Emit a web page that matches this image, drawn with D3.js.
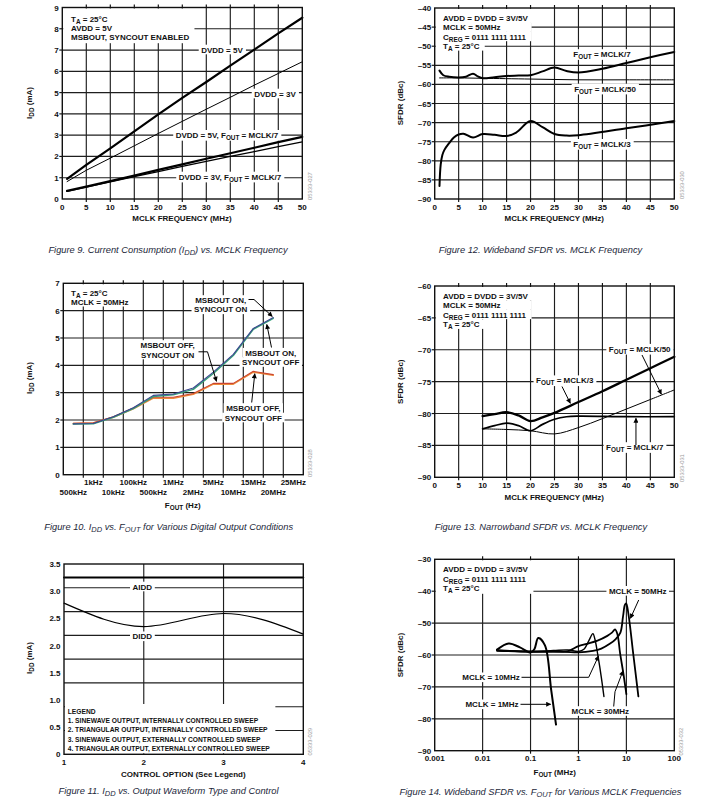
<!DOCTYPE html>
<html><head><meta charset="utf-8">
<script src="https://cdn.jsdelivr.net/npm/d3@7"></script>
<style>
body{margin:0;background:#fff;}
svg text{font-family:"Liberation Sans",Arial,Helvetica,sans-serif;fill:#111;}
</style></head><body>
<svg id="c" width="724" height="811"></svg>
<script>
// ---------- DATA ----------
// Figure 9: IDD vs MCLK frequency
const fig9Freq = [1, 5, 10, 15, 20, 25, 30, 35, 40, 45, 50];
const fig9Dvdd5 = [0.95, 1.6, 2.38, 3.18, 3.98, 4.75, 5.5, 6.27, 7.02, 7.78, 8.52];
const fig9Dvdd3 = [0.82, 1.35, 1.92, 2.5, 3.08, 3.65, 4.22, 4.78, 5.35, 5.9, 6.45];
const fig9Dvdd5Div7 = [0.38, 0.58, 0.84, 1.1, 1.37, 1.63, 1.89, 2.15, 2.41, 2.67, 2.92];
const fig9Dvdd3Div7 = [0.36, 0.56, 0.81, 1.05, 1.29, 1.53, 1.77, 2.0, 2.23, 2.46, 2.69];
const fig9XTicks = [0, 5, 10, 15, 20, 25, 30, 35, 40, 45, 50];
const fig9YTicks = [0, 1, 2, 3, 4, 5, 6, 7, 8, 9];

// Figure 12: Wideband SFDR vs MCLK
const fig12Mclk7F = [1, 1.8, 3, 5, 6.5, 8, 9, 10, 12.5, 15, 17.5, 20, 22.5, 25, 27.5, 30, 35, 40, 45, 50];
const fig12Mclk7 = [-56.4, -57.6, -58, -58.2, -58, -57.2, -57.9, -58.4, -58.1, -57.8, -57.7, -57.6, -56.6, -55.6, -56.5, -56.9, -55.9, -54.4, -52.9, -51.5];
const fig12Mclk50F = [1, 5, 10, 20, 30, 40, 50];
const fig12Mclk50 = [-58.3, -58.3, -58.4, -58.6, -58.8, -58.8, -58.8];
const fig12Mclk3F = [1, 1.25, 1.6, 2, 3, 4, 5, 6, 8, 10, 12.5, 15, 17, 20, 22.5, 25, 27.5, 30, 40, 50];
const fig12Mclk3 = [-86.6, -81, -78.5, -77.2, -75.4, -73.9, -73.1, -72.9, -73.9, -73, -73.2, -73.5, -72.6, -69.6, -71.2, -73, -73.4, -73.3, -71.5, -69.6];
const fig12XTicks = [0, 5, 10, 15, 20, 25, 30, 35, 40, 45, 50];
const fig12YTicks = [-90, -85, -80, -75, -70, -65, -60, -55, -50, -45, -40];

// Figure 10: IDD vs FOUT for digital output conditions
const fig10Cats = ["500kHz", "1kHz", "10kHz", "100kHz", "500kHz", "1MHz", "2MHz", "5MHz", "10MHz", "15MHz", "20MHz", "25MHz"];
const fig10OnOn = [1.86, 1.87, 2.12, 2.45, 2.9, 2.95, 3.17, 3.75, 4.4, 5.35, 5.75];
const fig10OnOff = [1.85, 1.86, 2.1, 2.42, 2.86, 2.92, 3.12, 3.7, 4.36, 5.32, 5.72];
const fig10OffOn = [1.88, 1.9, 2.12, 2.44, 2.83, 2.83, 2.97, 3.34, 3.34, 3.78, 3.66];
const fig10OffOff = [1.87, 1.89, 2.1, 2.41, 2.8, 2.8, 2.94, 3.31, 3.31, 3.75, 3.64];
const fig10YTicks = [0, 1, 2, 3, 4, 5, 6, 7];

// Figure 13: Narrowband SFDR vs MCLK
const fig13Mclk3F = [10, 12.5, 15, 17.5, 20, 22.5, 25, 30, 35, 40, 45, 50];
const fig13Mclk3 = [-80.4, -80.1, -79.8, -80.3, -81.2, -80.6, -79.9, -78.2, -76.5, -74.7, -72.9, -71.1];
const fig13Mclk7F = [10, 12.5, 15, 17.5, 20, 22.5, 25, 27.5, 30, 40, 50];
const fig13Mclk7 = [-82.4, -81.9, -81.5, -81.9, -82.7, -81.7, -80.9, -80.5, -80.4, -80.5, -80.5];
const fig13Mclk50F = [10, 15, 20, 25, 30, 35, 40, 45, 50];
const fig13Mclk50 = [-82.4, -82.5, -82.7, -83.2, -82.2, -80.8, -79.3, -77.8, -76.3];
const fig13XTicks = [0, 5, 10, 15, 20, 25, 30, 35, 40, 45, 50];
const fig13YTicks = [-90, -85, -80, -75, -70, -65, -60];

// Figure 11: IDD vs output waveform type and control
const fig11Option = [1, 2, 3, 4];
const fig11Aidd = [3.25, 3.25, 3.25, 3.25];
const fig11Didd = [2.78, 2.35, 2.59, 2.21];
const fig11YTicks = [0, 0.5, 1.0, 1.5, 2.0, 2.5, 3.0, 3.5];
const fig11YTickLabels = ["0", "0.5", "1.0", "1.5", "2.0", "2.5", "3.0", "3.5"];
const fig11Legend = ["LEGEND",
  "1. SINEWAVE OUTPUT, INTERNALLY CONTROLLED SWEEP",
  "2. TRIANGULAR OUTPUT, INTERNALLY CONTROLLED SWEEP",
  "3. SINEWAVE OUTPUT, EXTERNALLY CONTROLLED SWEEP",
  "4. TRIANGULAR OUTPUT, EXTERNALLY CONTROLLED SWEEP"];

// Figure 14: Wideband SFDR vs FOUT for MCLK frequencies
const fig14Mclk1F = [0.02, 0.035, 0.06, 0.1, 0.12, 0.145, 0.2, 0.27, 0.34];
const fig14Mclk1 = [-58.3, -56.4, -57.6, -59.2, -58.2, -54.7, -57, -71, -81.8];
const fig14Mclk10F = [0.02, 0.05, 0.1, 0.3, 0.6, 1.0, 1.3, 1.65, 2.0, 2.2, 2.6, 3.0, 3.4];
const fig14Mclk10 = [-58.6, -58.7, -58.9, -58.6, -58.4, -58.9, -58.2, -55.5, -53.3, -55, -61, -67, -73];
const fig14Mclk30F = [0.02, 0.1, 0.3, 0.6, 1.0, 1.5, 2.5, 4.0, 5.0, 5.8, 6.5, 7.4, 8.7, 10.0];
const fig14Mclk30 = [-58.7, -58.9, -58.8, -58.8, -57.2, -56.5, -55.5, -54, -53, -52, -53.5, -59.5, -66, -72.3];
const fig14Mclk50F = [0.02, 0.1, 0.5, 1, 2, 3, 4.5, 6, 7.5, 8.5, 9.3, 9.9, 11, 14, 17.8];
const fig14Mclk50 = [-58.5, -59, -59, -59.2, -58.7, -58, -56.5, -55, -53, -48, -44.3, -43.8, -47, -60, -73];
const fig14XTicks = [0.001, 0.01, 0.1, 1, 10, 100];
const fig14XTickLabels = ["0.001", "0.01", "0.1", "1", "10", "100"];
const fig14YTicks = [-90, -80, -70, -60, -50, -40, -30];

// ---------- HELPERS ----------
const svg = d3.select('#c');
const GRID = '#1e1e1e', GW = 1.15, FS = 8;
const defs = svg.append('defs');
defs.append('marker').attr('id', 'ah').attr('viewBox', '0 0 10 10').attr('refX', 9).attr('refY', 5)
  .attr('markerUnits', 'userSpaceOnUse').attr('markerWidth', 6.5).attr('markerHeight', 5).attr('orient', 'auto')
  .append('path').attr('d', 'M0,0L10,5L0,10Z').attr('fill', '#000');

function dash(v) { return v < 0 ? '\u2013' + Math.abs(v) : String(v); }

function rich(t, str, fs) {
  const parts = str.split(/(_\{[^}]*\})/).filter(s => s.length);
  let shifted = false;
  parts.forEach(p => {
    if (p.startsWith('_{')) {
      t.append('tspan').attr('font-size', fs * 0.8).attr('dy', fs * 0.26).text(p.slice(2, -1));
      shifted = true;
    } else {
      const ts = t.append('tspan').text(p);
      if (shifted) { ts.attr('dy', -fs * 0.26); shifted = false; }
    }
  });
}

function makePanel(P) {
  const g = svg.append('g');
  P.gGrid = g.append('g'); P.gBg = g.append('g'); P.gLine = g.append('g');
  P.gFrame = g.append('g'); P.gText = g.append('g'); P.gArrow = g.append('g');
  return P;
}
function hgrid(P, vals) {
  P.gGrid.selectAll(null).data(vals).join('line')
    .attr('x1', P.L).attr('x2', P.R).attr('y1', d => P.y(d)).attr('y2', d => P.y(d))
    .attr('stroke', GRID).attr('stroke-width', GW);
}
function vgrid(P, xs) {
  P.gGrid.selectAll(null).data(xs).join('line')
    .attr('y1', P.T).attr('y2', P.B).attr('x1', d => d).attr('x2', d => d)
    .attr('stroke', GRID).attr('stroke-width', GW);
}
function outTicks(P, xs, ys, top) {
  const g = P.gFrame;
  xs.forEach(x => {
    g.append('line').attr('x1', x).attr('x2', x).attr('y1', P.B).attr('y2', P.B + 3).attr('stroke', '#111').attr('stroke-width', GW);
    if (top) g.append('line').attr('x1', x).attr('x2', x).attr('y1', P.T - 3).attr('y2', P.T).attr('stroke', '#111').attr('stroke-width', GW);
  });
  ys.forEach(y => g.append('line').attr('x1', P.L - 3).attr('x2', P.L).attr('y1', y).attr('y2', y).attr('stroke', '#111').attr('stroke-width', GW));
}
function frame(P) {
  P.gFrame.append('rect').attr('x', P.L).attr('y', P.T).attr('width', P.R - P.L).attr('height', P.B - P.T)
    .attr('fill', 'none').attr('stroke', '#111').attr('stroke-width', 1.4);
}
function text(g, x, y, str, opt = {}) {
  const fs = opt.fs || FS;
  const t = g.append('text').attr('x', x).attr('y', y)
    .attr('text-anchor', opt.anchor || 'middle').attr('dominant-baseline', 'central')
    .attr('font-size', fs).attr('font-weight', opt.weight || 'bold');
  if (opt.fill) t.style('fill', opt.fill);
  if (opt.style) t.attr('font-style', opt.style);
  if (opt.rotate) t.attr('transform', `rotate(${opt.rotate},${x},${y})`);
  rich(t, str, fs);
  return t;
}
function label(P, x, y, str, opt = {}) {
  const t = text(P.gText, x, y, str, opt);
  const b = t.node().getBBox();
  P.gBg.append('rect').attr('x', b.x - 2.5).attr('y', b.y - 0.3).attr('width', b.width + 5).attr('height', b.height + 0.6).attr('fill', '#fff');
  return t;
}
function infoBox(P, x, ys, strs, rectMode) {
  const ts = strs.map((s, i) => text(P.gText, x, ys[i], s, { anchor: 'start' }));
  const ws = ts.map(t => t.node().getBBox().width);
  const pad = 5;
  if (rectMode) {
    P.gBg.append('rect').attr('x', P.L + 1).attr('y', P.T + 1).attr('width', x + d3.max(ws) + pad - P.L - 1)
      .attr('height', ys[ys.length - 1] + rectMode - P.T - 1).attr('fill', '#fff');
  } else {
    ys.forEach((y, i) => {
      const w = d3.max(ws.slice(i));
      const y0 = i === 0 ? P.T + 1 : y - 5;
      P.gBg.append('rect').attr('x', P.L + 1).attr('y', y0).attr('width', x + w + pad - P.L - 1)
        .attr('height', y + 4.6 - y0).attr('fill', '#fff');
    });
  }
}
function curve(P, xs, ys, opt = {}) {
  const pts = xs.map((d, i) => [d, ys[i]]);
  const ln = d3.line().x(d => P.xv(d[0])).y(d => P.y(d[1])).curve(opt.curve || d3.curveCatmullRom.alpha(0.5));
  P.gLine.append('path').attr('d', ln(pts)).attr('fill', 'none')
    .attr('stroke', opt.color || '#000').attr('stroke-width', opt.w || 1.5)
    .attr('stroke-linejoin', 'round').attr('stroke-linecap', 'round');
}
function arrow(P, pts) {
  P.gArrow.append('path').attr('d', d3.line()(pts)).attr('fill', 'none').attr('stroke', '#000')
    .attr('stroke-width', 1).attr('marker-end', 'url(#ah)');
}
function yLabels(P, vals, labels) {
  vals.forEach((v, i) => text(P.gText, P.L - 3.5, P.y(v), labels ? labels[i] : dash(v), { anchor: 'end' }));
}
function xLabels(P, vals, labels, dy) {
  vals.forEach((v, i) => text(P.gText, P.xv(v), P.B + dy, labels ? labels[i] : dash(v)));
}
function watermark(x, y, s) {
  text(svg, x, y, s, { fs: 5.8, weight: 'normal', fill: '#9a9a9a', rotate: -90 });
}
function caption(x, y, s) {
  text(svg, x, y, s, { fs: 9.3, weight: 'normal', style: 'italic', fill: '#23283a' });
}

// ---------- FIGURE 9 ----------
{
  const P = makePanel({ L: 62.3, R: 302.3, T: 7.5, B: 199 });
  P.x = d3.scaleLinear([0, 50], [P.L, P.R]); P.xv = P.x;
  P.y = d3.scaleLinear([0, 9], [P.B, P.T]);
  hgrid(P, fig9YTicks.slice(1, -1));
  vgrid(P, fig9XTicks.slice(1, -1).map(P.x));
  outTicks(P, fig9XTicks.slice(1, -1).map(P.x), fig9YTicks.slice(1, -1).map(P.y), true);
  infoBox(P, 71, [19, 28, 37.2], ["T_{A} = 25°C", "AVDD = 5V", "MSBOUT, SYNCOUT ENABLED"], 6);
  label(P, 222, 49.5, "DVDD = 5V");
  label(P, 275, 93.5, "DVDD = 3V");
  label(P, 227, 134.8, "DVDD = 5V, F_{OUT} = MCLK/7");
  label(P, 230, 176.5, "DVDD = 3V, F_{OUT} = MCLK/7");
  curve(P, fig9Freq, fig9Dvdd5, { w: 2.2, curve: d3.curveLinear });
  curve(P, fig9Freq, fig9Dvdd3, { w: 1, curve: d3.curveLinear });
  curve(P, fig9Freq, fig9Dvdd5Div7, { w: 2.2, curve: d3.curveLinear });
  curve(P, fig9Freq, fig9Dvdd3Div7, { w: 1.3, curve: d3.curveLinear });
  frame(P);
  yLabels(P, fig9YTicks);
  xLabels(P, fig9XTicks, null, 7.7);
  text(P.gText, 182, 218, "MCLK FREQUENCY (MHz)");
  text(P.gText, 29, 103, "I_{DD} (mA)", { rotate: -90 });
  watermark(309.5, 186, "05333-027");
  caption(168, 249.5, "Figure 9. Current Consumption (I_{DD}) vs. MCLK Frequency");
}

// ---------- FIGURE 12 ----------
{
  const P = makePanel({ L: 434.7, R: 674.3, T: 8, B: 199 });
  P.x = d3.scaleLinear([0, 50], [P.L, P.R]); P.xv = P.x;
  P.y = d3.scaleLinear([-90, -40], [P.B, P.T]);
  hgrid(P, fig12YTicks.slice(1, -1));
  vgrid(P, fig12XTicks.slice(1, -1).map(P.x));
  outTicks(P, fig12XTicks.slice(1, -1).map(P.x), fig12YTicks.slice(1, -1).map(P.y), true);
  infoBox(P, 443, [18.3, 27.3, 36.6, 46], ["AVDD = DVDD = 3V/5V", "MCLK = 50MHz", "C_{REG} = 0111 1111 1111", "T_{A} = 25°C"]);
  label(P, 602, 54, "F_{OUT} = MCLK/7");
  label(P, 605, 88.5, "F_{OUT} = MCLK/50");
  label(P, 602, 143.8, "F_{OUT} = MCLK/3");
  curve(P, fig12Mclk50F, fig12Mclk50, { w: 1 });
  curve(P, fig12Mclk7F, fig12Mclk7, { w: 2 });
  curve(P, fig12Mclk3F, fig12Mclk3, { w: 2 });
  frame(P);
  yLabels(P, fig12YTicks);
  xLabels(P, fig12XTicks, null, 7.7);
  text(P.gText, 554.3, 218, "MCLK FREQUENCY (MHz)");
  text(P.gText, 400.3, 103, "SFDR (dBc)", { rotate: -90 });
  watermark(681.5, 185, "05333-030");
  caption(540.5, 249.5, "Figure 12. Wideband SFDR vs. MCLK Frequency");
}

// ---------- FIGURE 10 ----------
{
  const P = makePanel({ L: 63.3, R: 303.3, T: 283.3, B: 474.7 });
  P.x = d3.scaleBand().domain(d3.range(fig10Cats.length)).range([P.L, P.R]);
  P.xv = i => P.x(i) + P.x.bandwidth() / 2;
  P.y = d3.scaleLinear([0, 7], [P.B, P.T]);
  const bounds = d3.range(1, fig10Cats.length).map(i => P.x(i));
  hgrid(P, fig10YTicks.slice(1, -1));
  vgrid(P, bounds);
  outTicks(P, bounds, fig10YTicks.slice(1, -1).map(P.y), true);
  infoBox(P, 71, [292.5, 302], ["T_{A} = 25°C", "MCLK = 50MHz"], 4.5);
  label(P, 220.7, 300, "MSBOUT ON,");
  label(P, 220.7, 309.3, "SYNCOUT ON");
  label(P, 167.7, 345, "MSBOUT OFF,");
  label(P, 167.7, 354.5, "SYNCOUT ON");
  label(P, 270.7, 352.7, "MSBOUT ON,");
  label(P, 270.7, 362, "SYNCOUT OFF");
  label(P, 253.3, 408, "MSBOUT OFF,");
  label(P, 253.3, 417.5, "SYNCOUT OFF");
  const idx = d3.range(fig10OnOn.length);
  curve(P, idx, fig10OffOff, { color: '#ec8a3a', w: 1.5, curve: d3.curveLinear });
  curve(P, idx, fig10OffOn, { color: '#cc4630', w: 1.1, curve: d3.curveLinear });
  curve(P, idx, fig10OnOff, { color: '#37a078', w: 1.5, curve: d3.curveLinear });
  curve(P, idx, fig10OnOn, { color: '#3c4590', w: 1.1, curve: d3.curveLinear });
  frame(P);
  yLabels(P, fig10YTicks);
  fig10Cats.forEach((c, i) => text(P.gText, P.xv(i), P.B + (i % 2 ? 7.5 : 16.8), c));
  text(P.gText, 182.7, 505, "F_{OUT} (Hz)");
  text(P.gText, 29, 378, "I_{DD} (mA)", { rotate: -90 });
  const xe = P.xv(10), ye = P.y(fig10OnOn[10]);
  arrow(P, [[248.5, 299.5], [254, 299.5], [xe - 1, ye - 1]]);
  arrow(P, [[198.5, 351.8], [207.5, 351.8], [P.xv(7) + 3.2, P.y(fig10OffOn[7]) - 2]]);
  arrow(P, [[271.5, 347.5], [266.8, P.y(5.55) + 1.5]]);
  arrow(P, [[251.7, 402.5], [P.xv(9) + 1.5, P.y(fig10OffOff[9]) + 1.5]]);
  watermark(310, 463, "05333-028");
  caption(168.7, 527, "Figure 10. I_{DD} vs. F_{OUT} for Various Digital Output Conditions");
}

// ---------- FIGURE 13 ----------
{
  const P = makePanel({ L: 434.7, R: 674.3, T: 286, B: 477.3 });
  P.x = d3.scaleLinear([0, 50], [P.L, P.R]); P.xv = P.x;
  P.y = d3.scaleLinear([-90, -60], [P.B, P.T]);
  hgrid(P, fig13YTicks.slice(1, -1));
  vgrid(P, fig13XTicks.slice(1, -1).map(P.x));
  outTicks(P, fig13XTicks.slice(1, -1).map(P.x), fig13YTicks.slice(1, -1).map(P.y), true);
  infoBox(P, 443, [295.5, 305.2, 314.5, 324.3], ["AVDD = DVDD = 3V/5V", "MCLK = 50MHz", "C_{REG} = 0111 1111 1111", "T_{A} = 25°C"]);
  label(P, 639.7, 348.7, "F_{OUT} = MCLK/50");
  label(P, 564.7, 380.2, "F_{OUT} = MCLK/3");
  label(P, 634.7, 447, "F_{OUT} = MCLK/7");
  curve(P, fig13Mclk50F, fig13Mclk50, { w: 1 });
  curve(P, fig13Mclk7F, fig13Mclk7, { w: 1.7 });
  curve(P, fig13Mclk3F, fig13Mclk3, { w: 2.3 });
  frame(P);
  yLabels(P, fig13YTicks);
  xLabels(P, fig13XTicks, null, 7.7);
  text(P.gText, 554.3, 497.3, "MCLK FREQUENCY (MHz)");
  text(P.gText, 400.3, 381.7, "SFDR (dBc)", { rotate: -90 });
  arrow(P, [[642, 355], [P.x(47.3), P.y(-77.2) - 1.5]]);
  arrow(P, [[562, 386.5], [P.x(28.3), P.y(-78.7) - 2]]);
  arrow(P, [[P.x(42), 445], [P.x(42), P.y(-80.5) + 1.5]]);
  watermark(681.5, 468, "05333-031");
  caption(541, 526.5, "Figure 13. Narrowband SFDR vs. MCLK Frequency");
}

// ---------- FIGURE 11 ----------
{
  const P = makePanel({ L: 64, R: 303.3, T: 564, B: 754.3 });
  P.x = d3.scaleLinear([1, 4], [P.L, P.R]); P.xv = P.x;
  P.y = d3.scaleLinear([0, 3.5], [P.B, P.T]);
  hgrid(P, d3.range(1, 8).map(k => k * 3.5 / 8));
  vgrid(P, [2, 3].map(P.x));
  const lg = fig11Legend.map((s, i) => text(P.gText, 67.7, [711, 720, 729.4, 738.7, 748][i], s, { anchor: 'start', fs: 6.7 }));
  const lw = d3.max(lg, t => t.node().getBBox().width);
  P.gBg.append('rect').attr('x', P.L + 1).attr('y', 704).attr('width', 67.7 + lw + 5 - P.L - 1).attr('height', P.B - 1 - 704).attr('fill', '#fff');
  label(P, 142.3, 586.5, "AIDD");
  label(P, 142.3, 636.3, "DIDD");
  curve(P, fig11Option, fig11Aidd, { w: 2, curve: d3.curveLinear });
  curve(P, fig11Option, fig11Didd, { w: 1.2, curve: d3.curveMonotoneX });
  frame(P);
  yLabels(P, fig11YTicks, fig11YTickLabels);
  xLabels(P, fig11Option, null, 8);
  text(P.gText, 183.3, 774.3, "CONTROL OPTION (See Legend)");
  text(P.gText, 29, 658, "I_{DD} (mA)", { rotate: -90 });
  watermark(310, 741.7, "05333-029");
  caption(168.5, 791, "Figure 11. I_{DD} vs. Output Waveform Type and Control");
}

// ---------- FIGURE 14 ----------
{
  const P = makePanel({ L: 434.7, R: 674.3, T: 559.3, B: 750.7 });
  P.x = d3.scaleLog([0.001, 100], [P.L, P.R]); P.xv = P.x;
  P.y = d3.scaleLinear([-90, -30], [P.B, P.T]);
  hgrid(P, fig14YTicks.slice(1, -1));
  vgrid(P, fig14XTicks.slice(1, -1).map(P.x));
  outTicks(P, fig14XTicks.slice(1, -1).map(P.x), fig14YTicks.slice(1, -1).map(P.y), true);
  infoBox(P, 443, [569, 578.7, 588.3], ["AVDD = DVDD = 3V/5V", "C_{REG} = 0111 1111 1111", "T_{A} = 25°C"], 5.5);
  label(P, 637.7, 590.8, "MCLK = 50MHz");
  label(P, 491, 677.3, "MCLK = 10MHz");
  label(P, 492, 704.3, "MCLK = 1MHz");
  label(P, 600.3, 711, "MCLK = 30MHz");
  curve(P, fig14Mclk10F, fig14Mclk10, { w: 1.4 });
  curve(P, fig14Mclk30F, fig14Mclk30, { w: 1.8 });
  curve(P, fig14Mclk50F, fig14Mclk50, { w: 1.8 });
  curve(P, fig14Mclk1F, fig14Mclk1, { w: 2 });
  frame(P);
  yLabels(P, fig14YTicks);
  xLabels(P, fig14XTicks, fig14XTickLabels, 7.6);
  text(P.gText, 554.7, 771.5, "F_{OUT} (MHz)");
  text(P.gText, 400.3, 655, "SFDR (dBc)", { rotate: -90 });
  arrow(P, [[638.7, 600], [P.x(11.3) + 1.5, P.y(-48.5)]]);
  arrow(P, [[521.5, 677.3], [588.7, 677.3], [P.x(2.5) + 1, P.y(-60) + 1]]);
  arrow(P, [[520.5, 704.3], [P.x(0.29) - 2, 704.3]]);
  arrow(P, [[613.7, 706.5], [615, 691.7], [P.x(8.3) + 0.5, P.y(-64.5) + 1.5]]);
  watermark(681.5, 741.7, "05333-032");
  caption(540.5, 792, "Figure 14. Wideband SFDR vs. F_{OUT} for Various MCLK Frequencies");
}
</script>
</body></html>
